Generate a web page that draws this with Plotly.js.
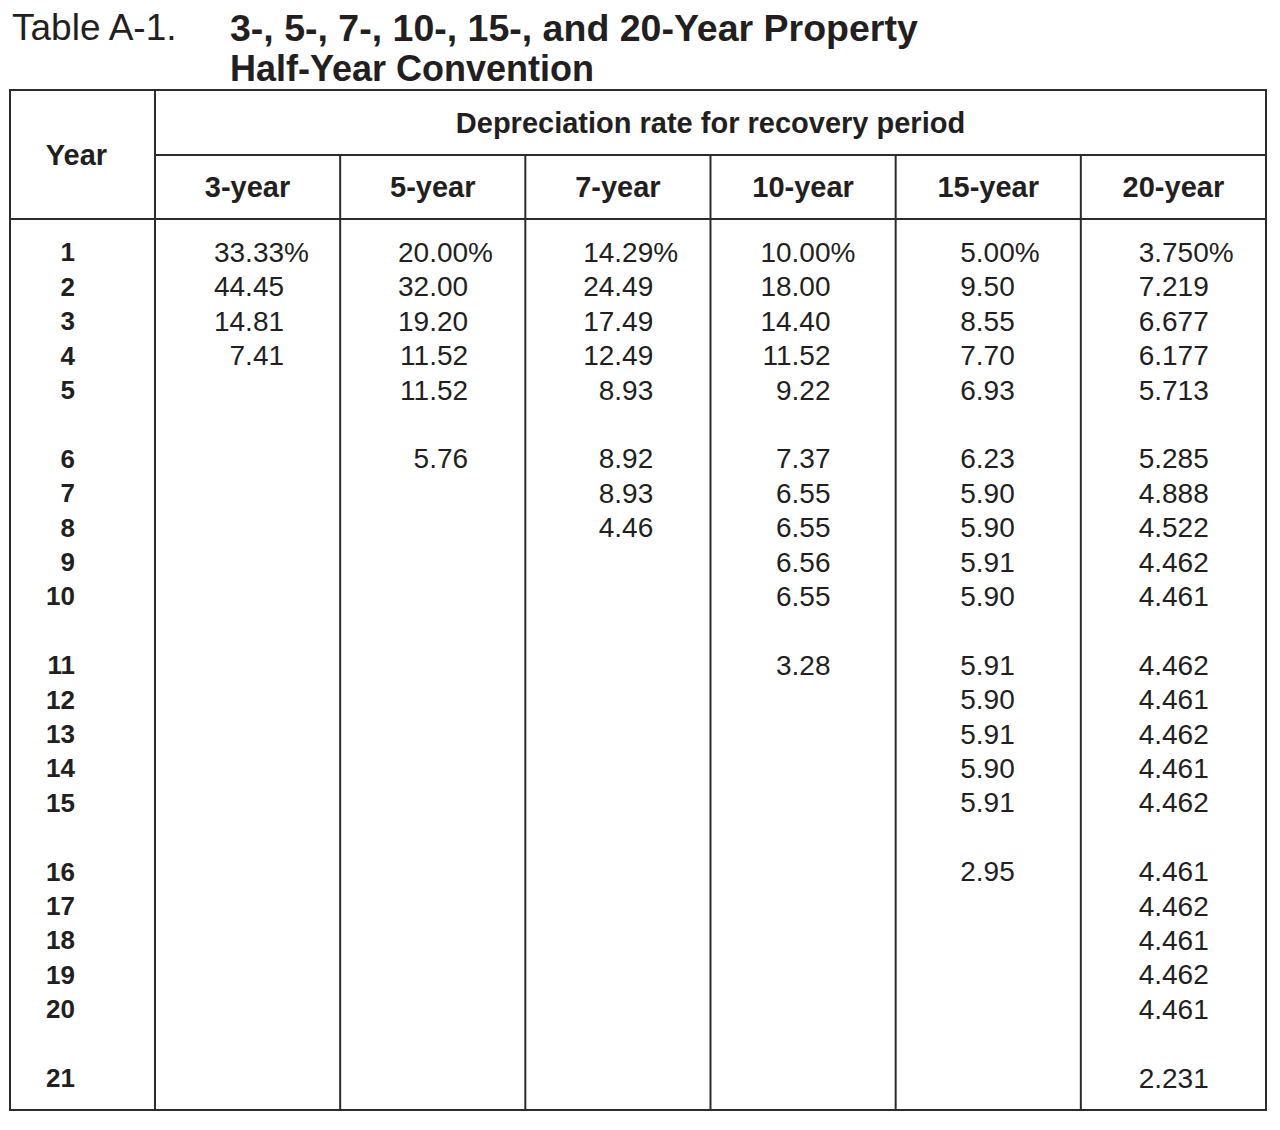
<!DOCTYPE html>
<html>
<head>
<meta charset="utf-8">
<script src="https://cdn.plot.ly/plotly-3.0.1.min.js"></script>
<style>
  body { margin: 0; background: #fff; }
  #chart { width: 1280px; height: 1130px; }
</style>
</head>
<body>
<div id="chart"></div>
<script>
const periods = ['3-year', '5-year', '7-year', '10-year', '15-year', '20-year'];
const years = [1, 2, 3, 4, 5, 6, 7, 8, 9, 10, 11, 12, 13, 14, 15, 16, 17, 18, 19, 20, 21];

const rate3 = [33.33, 44.45, 14.81, 7.41];
const rate5 = [20.00, 32.00, 19.20, 11.52, 11.52, 5.76];
const rate7 = [14.29, 24.49, 17.49, 12.49, 8.93, 8.92, 8.93, 4.46];
const rate10 = [10.00, 18.00, 14.40, 11.52, 9.22, 7.37, 6.55, 6.55, 6.56, 6.55, 3.28];
const rate15 = [5.00, 9.50, 8.55, 7.70, 6.93, 6.23, 5.90, 5.90, 5.91, 5.90,
                5.91, 5.90, 5.91, 5.90, 5.91, 2.95];
const rate20 = [3.750, 7.219, 6.677, 6.177, 5.713, 5.285, 4.888, 4.522, 4.462, 4.461,
                4.462, 4.461, 4.462, 4.461, 4.462, 4.461, 4.462, 4.461, 4.462, 4.461, 2.231];

const columns = [rate3, rate5, rate7, rate10, rate15, rate20];
const decimals = [2, 2, 2, 2, 2, 3];

// --- layout helpers (axis units: one unit = one rate column, one unit = one row) ---
const yearColWidth = 0.783;          // year column is narrower than the rate columns
const numberEdge = [0.697, 0.691, 0.691, 0.648, 0.643, 0.691];  // right edge of numbers inside each column
const TOP = -4.71, SUBHEAD = -2.82, HEAD_BOTTOM = -0.96, BOTTOM = 24.94;
const nudge = 0.085;                 // text sits a touch lower than the plain middle anchor

// rows come in blocks of five with a blank line between them
const rowOf = y => (y - 1) + Math.floor((y - 1) / 5) + nudge;

const ink = '#231f20';
const numFont = { family: 'Liberation Sans, Arial, sans-serif', size: 28, color: ink };
const boldFont = { family: 'Liberation Sans, Arial, sans-serif', size: 29, color: ink, weight: 700 };

const traces = [];

// year labels
traces.push({
  x: years.map(() => -0.432),
  y: years.map(rowOf),
  text: years.map(String),
  mode: 'text',
  textposition: 'middle left',
  textfont: Object.assign({}, boldFont, { size: 26 }),
  hoverinfo: 'skip',
  cliponaxis: false
});

// rate columns
columns.forEach((rates, i) => {
  traces.push({
    x: rates.map(() => i + numberEdge[i]),
    y: rates.map((_, k) => rowOf(years[k])),
    text: rates.map(v => v.toFixed(decimals[i])),
    mode: 'text',
    textposition: 'middle left',
    textfont: numFont,
    hoverinfo: 'skip',
    cliponaxis: false
  });
  // percent sign after the first year's rate
  traces.push({
    x: [i + numberEdge[i]],
    y: [rowOf(years[0])],
    text: ['%'],
    mode: 'text',
    textposition: 'middle right',
    textfont: numFont,
    hoverinfo: 'skip',
    cliponaxis: false
  });
});

// header texts
traces.push({
  x: [-0.424, 3].concat(periods.map((_, i) => i + 0.5)),
  y: [SUBHEAD + nudge, -3.75 + nudge].concat(periods.map(() => -1.89 + nudge)),
  text: ['Year', 'Depreciation rate for recovery period'].concat(periods),
  mode: 'text',
  textposition: 'middle center',
  textfont: boldFont,
  hoverinfo: 'skip',
  cliponaxis: false
});

// grid lines
const line = { color: '#2b2b2b', width: 2 };
const shapes = [
  { type: 'rect', xref: 'x', yref: 'y', x0: -yearColWidth, x1: 6, y0: TOP, y1: BOTTOM, line },
  { type: 'line', xref: 'x', yref: 'y', x0: 0, x1: 0, y0: TOP, y1: BOTTOM, line },
  { type: 'line', xref: 'x', yref: 'y', x0: 0, x1: 6, y0: SUBHEAD, y1: SUBHEAD, line },
  { type: 'line', xref: 'x', yref: 'y', x0: -yearColWidth, x1: 6, y0: HEAD_BOTTOM, y1: HEAD_BOTTOM, line }
];
for (let i = 1; i < periods.length; i++) {
  shapes.push({ type: 'line', xref: 'x', yref: 'y', x0: i, x1: i, y0: SUBHEAD, y1: BOTTOM, line });
}

const layout = {
  width: 1280,
  height: 1130,
  margin: { l: 0, r: 0, t: 0, b: 0 },
  showlegend: false,
  paper_bgcolor: 'white',
  plot_bgcolor: 'white',
  xaxis: { range: [-0.837, 6.0756], visible: false, fixedrange: true },
  yaxis: { range: [25.523, -7.326], visible: false, fixedrange: true },
  shapes,
  annotations: [
    {
      xref: 'paper', yref: 'paper', x: 0.0078, y: 1 - 28 / 1130,
      xanchor: 'left', yanchor: 'middle', showarrow: false,
      text: 'Table A-1.',
      font: { family: 'Liberation Sans, Arial, sans-serif', size: 37, color: ink }
    },
    {
      xref: 'paper', yref: 'paper', x: 228 / 1280, y: 1 - 28 / 1130,
      xanchor: 'left', yanchor: 'middle', showarrow: false,
      text: '3-, 5-, 7-, 10-, 15-, and 20-Year Property',
      font: { family: 'Liberation Sans, Arial, sans-serif', size: 37.5, color: ink, weight: 700 }
    },
    {
      xref: 'paper', yref: 'paper', x: 228 / 1280, y: 1 - 68 / 1130,
      xanchor: 'left', yanchor: 'middle', showarrow: false,
      text: 'Half-Year Convention',
      font: { family: 'Liberation Sans, Arial, sans-serif', size: 36, color: ink, weight: 700 }
    }
  ]
};

Plotly.newPlot('chart', traces, layout, { staticPlot: true, displayModeBar: false });
</script>
</body>
</html>
